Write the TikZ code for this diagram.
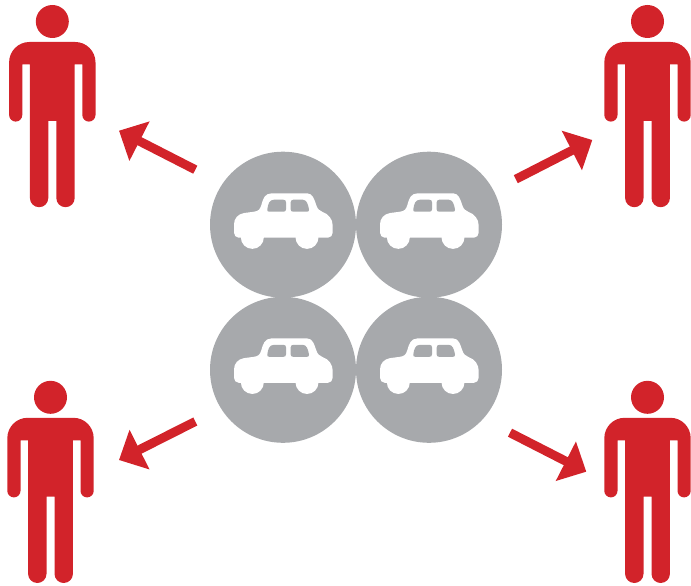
\documentclass[tikz,border=0pt]{standalone}
\usetikzlibrary{arrows.meta}
\definecolor{manred}{HTML}{D2232A}
\definecolor{discgray}{HTML}{A7A9AC}
\tikzset{
  disc/.style={circle,fill=discgray,draw=none,minimum size=146pt,inner sep=0pt,outer sep=0pt},
  flow/.style={draw=manred,line width=9pt,-{Triangle[length=23pt,width=43pt,fill=manred]}},
  car/.pic={
    \begin{scope}[x=0.3333pt,y=-0.3333pt,shift={(-159,-104)}]
      \fill[white] (26,143)
        .. controls (18,143) and (12,136) .. (12,128) -- (12,103)
        .. controls (12,85) and (24,72) .. (42,69)
        -- (72,65)
        .. controls (86,63) and (90,58) .. (94,45)
        .. controls (99,27) and (104,10) .. (124,10)
        -- (232,10)
        .. controls (248,10) and (253,28) .. (259,46)
        .. controls (263,58) and (269,62) .. (278,66)
        .. controls (296,72) and (308,88) .. (308,106)
        -- (308,128)
        .. controls (308,136) and (302,143) .. (294,143) -- cycle;
      \fill[white] (67,142) circle[radius=34.5];
      \fill[white] (231,142) circle[radius=34.5];
      \fill[discgray] (112,58)
        .. controls (114,42) and (118,29) .. (132,29)
        -- (160,29)
        .. controls (166,29) and (168,32) .. (168,37)
        -- (168,58)
        .. controls (168,63) and (165,65) .. (160,65)
        -- (118,65)
        .. controls (113,65) and (111,63) .. (112,58) -- cycle;
      \fill[discgray] (182,37)
        .. controls (182,32) and (185,29) .. (190,29)
        -- (218,29)
        .. controls (230,29) and (234,42) .. (237,58)
        .. controls (238,63) and (235,65) .. (231,65)
        -- (190,65)
        .. controls (185,65) and (182,63) .. (182,58) -- cycle;
    \end{scope}
  },
  man/.pic={
    \fill[manred] (0,0) circle[radius=16.5];
    \fill[manred] (-23,20.5)
      -- (23,20.5)
      .. controls (34,20.5) and (43.2,29.5) .. (43.2,41)
      -- (43.2,93.5)
      arc[start angle=0,end angle=180,radius=6.6]
      -- (30,43) -- (22.4,43)
      -- (22.4,176.5)
      arc[start angle=0,end angle=180,radius=9.2]
      -- (4,99.3) -- (-4,99.3)
      -- (-4,176.5)
      arc[start angle=0,end angle=180,radius=9.2]
      -- (-22.4,43) -- (-30,43)
      -- (-30,93.5)
      arc[start angle=0,end angle=180,radius=6.6]
      -- (-43.2,41)
      .. controls (-43.2,29.5) and (-34,20.5) .. (-23,20.5) -- cycle;
  }
}
\begin{document}
\begin{tikzpicture}[x=1pt,y=-1pt]
  \useasboundingbox (0,0) rectangle (691,586);
  \node[disc] (d1) at (283,224.7) {};
  \node[disc] (d2) at (429,224.7) {};
  \node[disc] (d3) at (283,369.8) {};
  \node[disc] (d4) at (429,369.8) {};
  \pic at (d1.center) {car};
  \pic at (d2.center) {car};
  \pic at (d3.center) {car};
  \pic at (d4.center) {car};
  \pic at (52.3,21.5) {man};
  \pic at (647.5,21.5) {man};
  \pic at (50.5,397.3) {man};
  \pic at (647.5,397.3) {man};
  \coordinate (t1) at (195.3,169.7); \coordinate (h1) at (119,130.7);
  \coordinate (t2) at (515.8,179.2); \coordinate (h2) at (592.3,140);
  \coordinate (t3) at (195.3,421.5); \coordinate (h3) at (119,460);
  \coordinate (t4) at (510,432.7);   \coordinate (h4) at (586.3,471.7);
  \draw[flow] (t1) -- (h1);
  \draw[flow] (t2) -- (h2);
  \draw[flow] (t3) -- (h3);
  \draw[flow] (t4) -- (h4);
\end{tikzpicture}
\end{document}
